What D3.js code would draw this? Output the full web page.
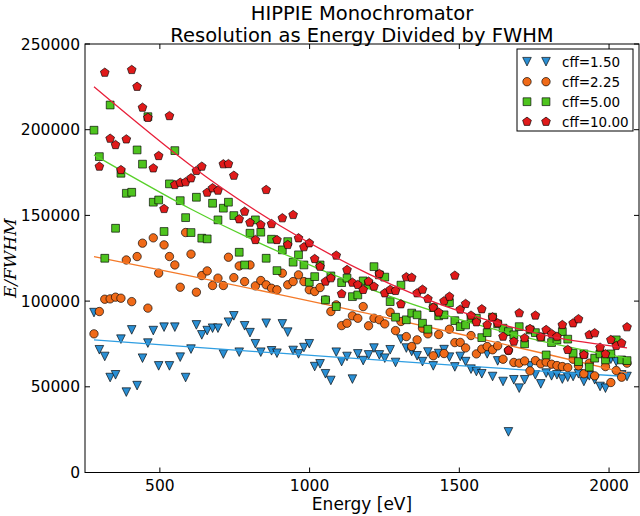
<!DOCTYPE html>
<html><head><meta charset="utf-8">
<script src="https://cdnjs.cloudflare.com/ajax/libs/d3/7.8.5/d3.min.js"></script>
<style>body{margin:0;background:#fff}svg{display:block}</style>
</head><body>
<svg id="chart" width="640" height="516"></svg>
<script>
const titleLines = ["HIPPIE Monochromator", "Resolution as Energy Divided by FWHM"];
const xLabel = "Energy [eV]";
const yLabel = "E/FWHM";
const xTicks = [500, 1000, 1500, 2000];
const yTicks = [0, 50000, 100000, 150000, 200000, 250000];
const xDomain = [250, 2100];
const yDomain = [0, 250000];

const energies = [280,298,316,334,352,370,388,406,424,442,460,478,496,514,532,550,568,586,604,622,
640,658,676,694,712,729,747,765,783,801,819,837,855,873,891,909,927,945,963,981,
999,1017,1035,1053,1071,1089,1107,1125,1143,1161,1179,1197,1215,1233,1251,1269,1287,1305,1323,1341,
1359,1377,1395,1413,1431,1449,1467,1485,1503,1521,1539,1557,1575,1593,1611,1628,1646,1664,1682,1700,
1718,1736,1754,1772,1790,1808,1826,1844,1862,1880,1898,1916,1934,1952,1970,1988,2006,2024,2042,2060];

const cff150 = [93300,71600,67700,55400,57000,77800,46900,83200,50700,66700,75500,82800,62200,84800,62200,84800,67300,55400,72000,86100,
80300,82800,84200,84200,69100,87700,91400,70200,85600,81600,75100,70200,87100,71000,69600,86700,81900,71200,69200,72900,
75100,61800,63400,57600,53700,70200,64700,67700,54500,69200,65300,68600,72600,68600,66700,71600,64200,77800,72600,70600,
68100,64700,70300,62200,69400,71700,67300,61600,67700,64700,60300,58900,57600,69200,56000,65100,53100,23700,54100,49200,
54100,62200,57000,51700,58000,56400,57000,54500,55600,56000,57600,53100,56400,54100,50200,49200,66100,64700,57000,56000];

const cff225 = [80900,93900,101100,101300,102300,101700,124000,99700,126000,133800,95900,136900,116300,132800,126000,121100,108100,140000,127400,105200,
114900,117600,109100,113400,109100,125600,113700,120500,111400,121100,108900,112000,109500,107500,106600,116300,109500,111400,115300,111400,
106600,105600,107900,100700,93900,97800,85700,87100,91400,90000,96800,85600,90000,89100,86700,93500,82800,88100,79300,73500,
77400,84200,80900,68100,80500,69400,83600,75800,75900,72700,79900,69200,72000,73500,71600,73900,66100,71200,64200,63800,
65100,59300,65300,63400,64400,63200,62400,61800,61200,66100,62200,57600,63800,56400,70000,61800,52500,59500,55600,63800];

const cff500 = [199700,184300,125000,214400,142500,174600,162900,163500,188200,179900,207600,157700,159000,140600,168400,187800,158600,148700,140000,160600,
136700,136300,157100,147400,154200,157700,149900,128500,121100,139600,147400,140200,125000,136100,117800,129900,134700,122700,127000,121100,
111000,114300,121100,100700,114700,96800,110800,113400,102600,103600,111800,109500,120100,115300,114000,99700,90600,109300,89100,93000,
92000,87100,83600,96200,91400,92000,99100,88600,85100,86100,90000,90000,78700,81600,90600,86700,84200,82200,80300,85100,
75100,83200,81600,79000,68600,75800,77400,82200,77800,69600,64700,69200,61500,66700,69200,65700,69200,77400,65700,65300];

const cff1000 = [null,178500,233300,194800,191100,176500,194400,234900,225100,212900,207000,177500,184700,153800,208000,167800,169100,169400,171700,176000,
178500,163300,165900,164500,179900,180000,173200,147800,152200,145800,135700,144500,164900,145000,135700,148400,132800,150300,136700,131500,
133800,124600,120100,111400,113400,126600,104200,118200,110800,109500,106600,111400,108500,115900,104600,106600,106000,98200,114000,113700,
104600,106700,101300,96200,93400,100000,102600,114900,95100,98400,91600,87700,95300,86100,90600,87100,79300,71200,76400,93000,
78400,83800,91600,79000,83200,80900,79300,86100,71600,87100,89500,68600,80300,81300,72900,69100,77400,73900,75500,84800];

// Fitted curves
const fitEnergies = [280, 600, 900, 1200, 1500, 1800, 2060];
const fit150 = [77400, 73300, 69600, 66000, 62400, 58900, 56000];
const fit225 = [126000, 114700, 103800, 92500, 80800, 68700, 58000];
const fit500 = [185300, 154000, 128600, 107100, 89400, 75600, 66700];
const fit1000 = [225000, 179500, 144100, 115600, 94100, 79600, 72700];

const seriesNames = ["cff=1.50", "cff=2.25", "cff=5.00", "cff=10.00"];
const seriesColors = ["#2a8fd4", "#f06a18", "#4ec41e", "#e01a1a"];
const lineColors = ["#2f9ee2", "#f47a2a", "#58d02a", "#e8203a"];
const seriesShapes = ["tri", "circle", "square", "pent"];

const svg = d3.select("#chart");
const W = 640, H = 516;
const m = {left: 85, right: 1, top: 44, bottom: 43.5};
const x = d3.scaleLinear().domain(xDomain).range([m.left, W - m.right]);
const y = d3.scaleLinear().domain(yDomain).range([H - m.bottom, m.top]);
const FONT = "DejaVu Sans, Liberation Sans, sans-serif";

svg.append("rect").attr("width", W).attr("height", H).attr("fill", "#fff");

function shapePath(kind) {
  if (kind === "tri") { const r = 4.3; return `M0,${r}L${-r},${-r}L${r},${-r}Z`; }
  if (kind === "square") { const s = 3.9; return `M${-s},${-s}H${s}V${s}H${-s}Z`; }
  if (kind === "circle") { const r = 4.2; return `M${r},0A${r},${r} 0 1,1 ${-r},0A${r},${r} 0 1,1 ${r},0Z`; }
  if (kind === "pent") {
    const r = 4.6; let p = "";
    for (let k = 0; k < 5; k++) {
      const a = -Math.PI / 2 + k * 2 * Math.PI / 5;
      p += (k ? "L" : "M") + (r * Math.cos(a)).toFixed(2) + "," + (r * Math.sin(a)).toFixed(2);
    }
    return p + "Z";
  }
}

svg.append("clipPath").attr("id", "clip").append("rect")
  .attr("x", m.left).attr("y", m.top).attr("width", W - m.right - m.left).attr("height", H - m.bottom - m.top);

const plot = svg.append("g").attr("clip-path", "url(#clip)");
const allVals = [cff150, cff225, cff500, cff1000];
const allFits = [fit150, fit225, fit500, fit1000];
const line = d3.line().x((d, i) => x(fitEnergies[i])).y(d => y(d)).curve(d3.curveNatural);

allVals.forEach((vals, s) => {
  const pts = energies.map((e, i) => ({e, v: vals[i]})).filter(d => d.v != null);
  plot.append("g").selectAll("path").data(pts).join("path")
    .attr("d", shapePath(seriesShapes[s]))
    .attr("transform", d => `translate(${x(d.e)},${y(d.v)})`)
    .attr("fill", seriesColors[s]).attr("stroke", "#000").attr("stroke-width", 0.65);
  plot.append("path").datum(allFits[s]).attr("d", line)
    .attr("fill", "none").attr("stroke", lineColors[s]).attr("stroke-width", 1.3);
});

// Axes frame and ticks (inward, all four sides)
const x0 = m.left, x1 = W - m.right, y0 = H - m.bottom, y1 = m.top;
const axisG = svg.append("g");
axisG.append("rect").attr("x", x0).attr("y", y1).attr("width", x1 - x0).attr("height", y0 - y1)
  .attr("fill", "none").attr("stroke", "#000").attr("stroke-width", 1);
const TL = 5;
xTicks.forEach(t => {
  axisG.append("line").attr("x1", x(t)).attr("x2", x(t)).attr("y1", y0).attr("y2", y0 - TL).attr("stroke", "#000");
  axisG.append("line").attr("x1", x(t)).attr("x2", x(t)).attr("y1", y1).attr("y2", y1 + TL).attr("stroke", "#000");
  axisG.append("text").attr("x", x(t)).attr("y", y0 + 18.5).attr("text-anchor", "middle")
    .attr("font-family", FONT).attr("font-size", 15.5).text(t);
});
yTicks.forEach(t => {
  axisG.append("line").attr("x1", x0).attr("x2", x0 + TL).attr("y1", y(t)).attr("y2", y(t)).attr("stroke", "#000");
  axisG.append("line").attr("x1", x1).attr("x2", x1 - TL).attr("y1", y(t)).attr("y2", y(t)).attr("stroke", "#000");
  axisG.append("text").attr("x", x0 - 5).attr("y", y(t)).attr("dy", "0.36em").attr("text-anchor", "end")
    .attr("font-family", FONT).attr("font-size", 15.5).text(t);
});

// Titles and labels
svg.selectAll(".title").data(titleLines).join("text").attr("class", "title")
  .attr("x", (x0 + x1) / 2).attr("y", (d, i) => 19.5 + i * 22).attr("text-anchor", "middle")
  .attr("font-family", FONT).attr("font-size", 19.5).text(d => d);
svg.append("text").attr("x", (x0 + x1) / 2).attr("y", 510).attr("text-anchor", "middle")
  .attr("font-family", FONT).attr("font-size", 17).text(xLabel);
svg.append("text").attr("transform", `translate(16,${(y0 + y1) / 2}) rotate(-90)`)
  .attr("text-anchor", "middle").attr("font-family", "DejaVu Serif, Liberation Serif, serif")
  .attr("font-style", "italic").attr("font-size", 17).text(yLabel);

// Legend
const lg = svg.append("g");
lg.append("rect").attr("x", 517).attr("y", 49).attr("width", 116).attr("height", 82)
  .attr("fill", "#fff").attr("stroke", "#000").attr("stroke-width", 1);
seriesNames.forEach((name, s) => {
  const cy = 61.7 + s * 20;
  [527, 546].forEach(cx => {
    lg.append("path").attr("d", shapePath(seriesShapes[s])).attr("transform", `translate(${cx},${cy})`)
      .attr("fill", seriesColors[s]).attr("stroke", "#000").attr("stroke-width", 0.65);
  });
  lg.append("text").attr("x", 562).attr("y", cy).attr("dy", "0.36em")
    .attr("font-family", FONT).attr("font-size", 13.5).text(name);
});
</script>
</body></html>
